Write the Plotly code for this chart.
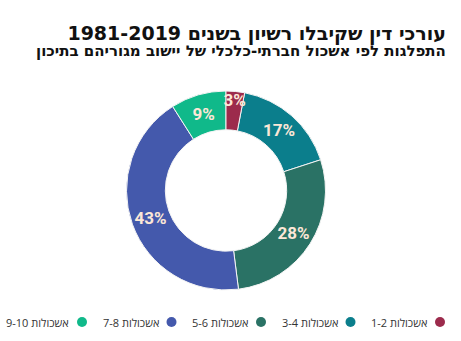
import plotly.graph_objects as go

# Share of lawyers licensed 1981-2019, by socio-economic cluster of their high-school home town
clusters = ["אשכולות 1-2", "אשכולות 3-4", "אשכולות 5-6", "אשכולות 7-8", "אשכולות 9-10"]
shares = [3, 17, 28, 43, 9]
colors = ["#9C2B4C", "#0B7E8C", "#2A7265", "#4459AC", "#10B98A"]

title_text = "עורכי דין שקיבלו רשיון בשנים 1981-2019"
subtitle_text = "התפלגות לפי אשכול חברתי-כלכלי של יישוב מגוריהם בתיכון"

W, H = 461, 341

# The ring reads 1-2, 3-4, ... clockwise from 12 o'clock.  The thin 1-2 slice is
# moved to the end of the trace (and the start angle advanced by its size) so that
# its label, which spills onto the 3-4 slice, is painted on top.
order = [1, 2, 3, 4, 0]
start_deg = shares[0] / sum(shares) * 360

fig = go.Figure()
fig.add_trace(go.Pie(
    labels=[clusters[i] for i in order],
    values=[shares[i] for i in order],
    sort=False,
    direction="clockwise",
    rotation=start_deg,
    hole=0.61,
    marker=dict(colors=[colors[i] for i in order], line=dict(color="#F4F4F4", width=1)),
    texttemplate="%{value}%",
    textposition="inside",
    insidetextorientation="horizontal",
    textfont=dict(family="Roboto, DejaVu Sans", size=17, color="#FCE7D7", weight="bold"),
    domain=dict(x=[126.5 / W, 325.5 / W], y=[51 / H, 250 / H]),
    showlegend=False,
    hoverinfo="label+percent",
))

# Title and subtitle as one right-aligned two-line block
heading = (f"<span style='font-size:19px'>{title_text}</span><br>"
           f"<span style='font-size:15px'>{subtitle_text}</span>")
annotations = [
    dict(text=heading, x=448 / W, y=1 - 41 / H, xref="paper", yref="paper",
         xanchor="right", yanchor="middle", align="right", showarrow=False,
         font=dict(family="DejaVu Sans", size=12, color="#111111", weight="bold")),
]

# Right-to-left legend along the bottom: dot on the right, label to its left
shapes = []
legend_y = 322
step = 89.5
for i, (name, col) in enumerate(zip(clusters, colors)):
    cx = 440 - i * step
    shapes.append(dict(type="circle", xref="paper", yref="paper",
                       x0=(cx - 5) / W, x1=(cx + 5) / W,
                       y0=1 - (legend_y + 5) / H, y1=1 - (legend_y - 5) / H,
                       fillcolor=col, line=dict(width=0)))
    annotations.append(dict(text=name, x=(cx - 11) / W, y=1 - legend_y / H,
                            xref="paper", yref="paper", xanchor="right", yanchor="middle",
                            showarrow=False,
                            font=dict(family="Open Sans, DejaVu Sans", size=11, color="#333333")))

fig.update_layout(
    width=W, height=H,
    margin=dict(l=0, r=0, t=0, b=0),
    paper_bgcolor="white",
    plot_bgcolor="white",
    uniformtext=dict(minsize=17, mode="show"),
    annotations=annotations,
    shapes=shapes,
)

fig.write_html("out.html")
